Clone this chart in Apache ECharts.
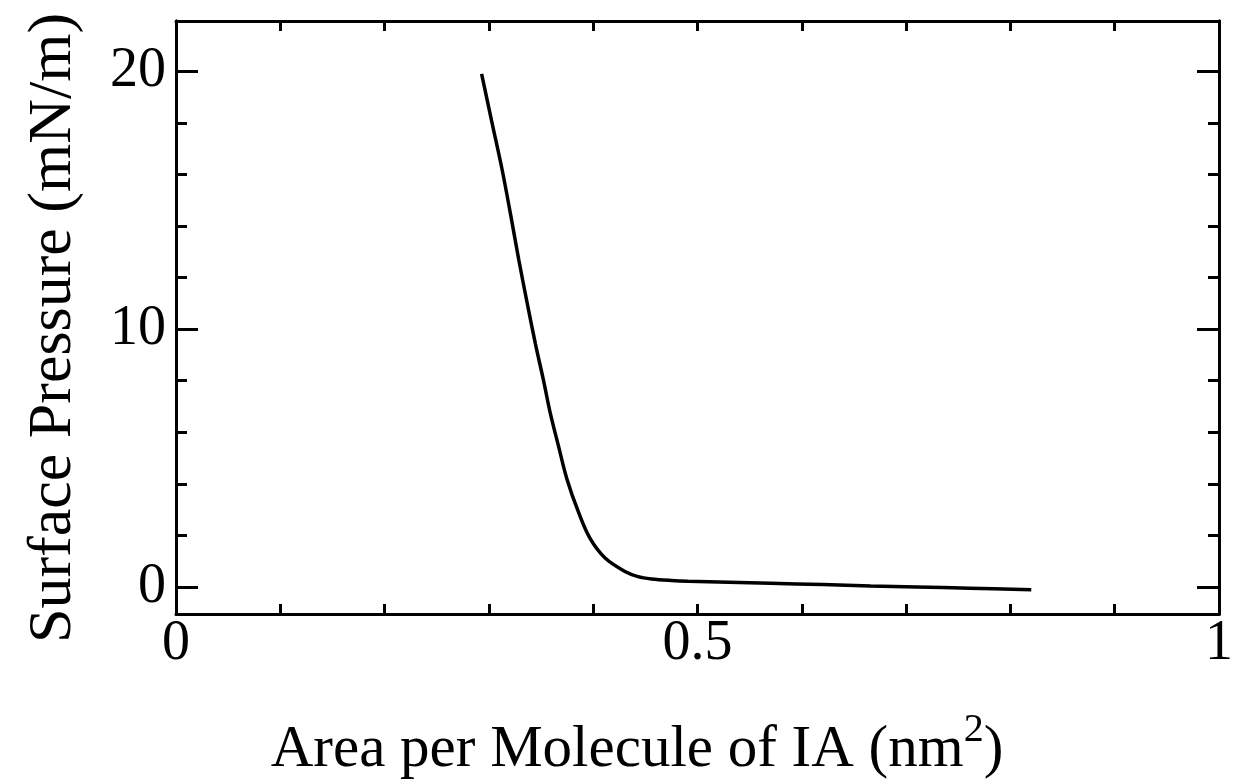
<!DOCTYPE html>
<html>
<head>
<meta charset="utf-8">
<script src="https://cdn.jsdelivr.net/npm/echarts@6/dist/echarts.min.js"></script>
<style>
html,body{margin:0;padding:0;background:#fff;}
#chart{width:1236px;height:783px;}
</style>
</head>
<body>
<div id="chart"></div>
<script>
// Data
const areaValues = [0.293, 0.303, 0.3126, 0.321, 0.3286, 0.3365, 0.3445, 0.3524, 0.3588, 0.3668, 0.3747, 0.3859, 0.397, 0.4114, 0.4305, 0.443, 0.456, 0.475, 0.491, 0.530, 0.570, 0.620, 0.666, 0.710, 0.761, 0.820];
const pressureValues = [19.9, 18.0, 16.2, 14.4, 12.7, 11.05, 9.45, 8.0, 6.75, 5.45, 4.2, 2.9, 1.88, 1.12, 0.6, 0.4, 0.31, 0.25, 0.22, 0.18, 0.14, 0.09, 0.04, 0.0, -0.05, -0.11];
const xTickLabels = ['0', '0.5', '1'];
const yMajorTicks = [0, 10, 20];
const yMinorTicks = [0, 2, 4, 6, 8, 10, 12, 14, 16, 18, 20];
const xTitle = 'Area per Molecule of IA (nm';
const xTitleSup = '2';
const xTitleEnd = ')';
const yTitle = 'Surface Pressure (mN/m)';

const FONT = '"Liberation Serif", "Times New Roman", serif';
const seriesData = areaValues.map((x, i) => [x, pressureValues[i]]);

const chart = echarts.init(document.getElementById('chart'));
const lineStyle = { color: '#000', width: 3 };
const Y_MIN = -1.05, Y_MAX = 21.95;

function yAx(pos, values, len, showLabel) {
  return {
    type: 'value', position: pos, min: Y_MIN, max: Y_MAX,
    axisLine: { show: true, lineStyle },
    axisTick: { show: true, inside: true, length: len, customValues: values, lineStyle: { color: '#000', width: 3 } },
    axisLabel: showLabel ? { show: true, customValues: yMajorTicks, fontFamily: FONT, fontSize: 56, color: '#000', margin: 10 } : { show: false },
    splitLine: { show: false }
  };
}

chart.setOption({
  backgroundColor: '#fff',
  animation: false,
  grid: { left: 176, right: 13, top: 21, bottom: 169 },
  xAxis: [
    {
      type: 'value', position: 'bottom', min: 0, max: 1, interval: 0.1,
      axisLine: { show: true, onZero: false, lineStyle },
      axisTick: { show: true, inside: true, length: 10, lineStyle: { color: '#000', width: 3 } },
      axisLabel: {
        fontFamily: FONT, fontSize: 56, color: '#000', margin: 2,
        showMinLabel: true, showMaxLabel: true,
        formatter: v => {
          const s = String(Math.round(v * 10) / 10);
          return xTickLabels.indexOf(s) >= 0 ? s : '';
        }
      },
      splitLine: { show: false }
    },
    {
      type: 'value', position: 'top', min: 0, max: 1, interval: 0.1,
      axisLine: { show: true, onZero: false, lineStyle },
      axisTick: { show: true, inside: true, length: 10, lineStyle: { color: '#000', width: 3 } },
      axisLabel: { show: false },
      splitLine: { show: false }
    }
  ],
  yAxis: [
    yAx('left', yMajorTicks, 22, true),
    yAx('left', yMinorTicks, 11, false),
    yAx('right', yMajorTicks, 22, false),
    yAx('right', yMinorTicks, 11, false)
  ],
  graphic: [
    {
      type: 'text', x: 637, y: 745,
      style: {
        text: '{b|' + xTitle + '}{s|' + xTitleSup + '}{b|' + xTitleEnd + '}',
        align: 'center', verticalAlign: 'middle',
        rich: {
          b: { fontFamily: FONT, fontSize: 59, fill: '#000', lineHeight: 70, verticalAlign: 'bottom' },
          s: { fontFamily: FONT, fontSize: 40, fill: '#000', lineHeight: 70, verticalAlign: 'top' }
        }
      }
    },
    {
      type: 'text', x: 54, y: 328, rotation: Math.PI / 2,
      style: {
        text: yTitle, align: 'center', verticalAlign: 'middle',
        fontFamily: FONT, fontSize: 62, fill: '#000'
      }
    }
  ],
  series: [{
    type: 'line', xAxisIndex: 0, yAxisIndex: 0,
    data: seriesData, smooth: 0.35, showSymbol: false,
    lineStyle: { color: '#000', width: 3.5 }
  }]
});
</script>
</body>
</html>
